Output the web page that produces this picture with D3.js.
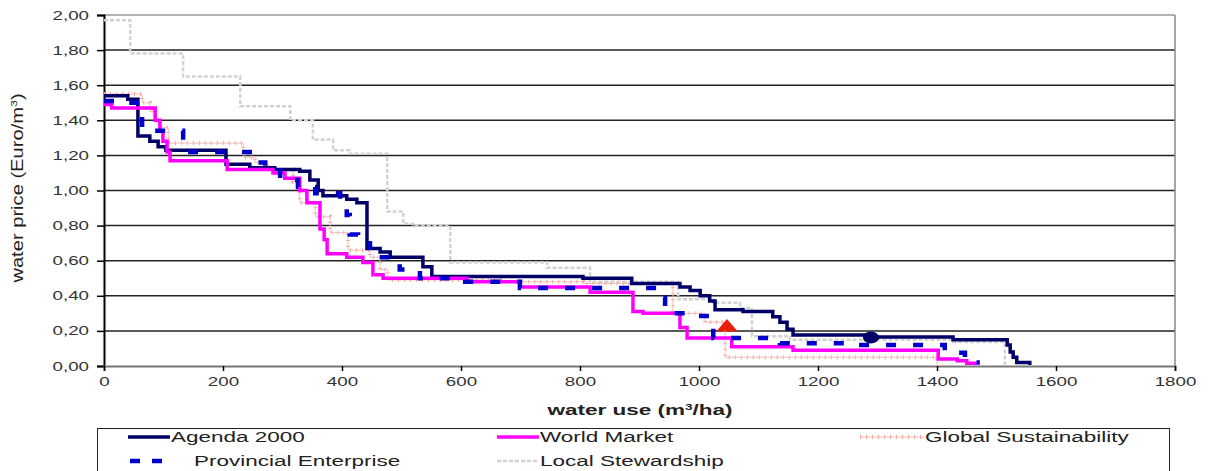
<!DOCTYPE html>
<html>
<head>
<meta charset="utf-8">
<script src="https://cdn.jsdelivr.net/npm/d3@7"></script>
<style>
  body { margin: 0; background: #fff; }
  text { font-family: "Liberation Sans", Arial, sans-serif; }
</style>
</head>
<body>
<div id="chart"></div>
<script>
// step curves: [water use, price] - price holds from this x until the next point
var agenda2000 = [[0,1.54],[40,1.52],[57,1.31],[77,1.28],[91,1.25],[104,1.23],[205,1.15],[245,1.13],[287,1.12],[329,1.11],[346,1.06],[360,1.00],[368,0.97],[408,0.95],[425,0.93],[442,0.67],[464,0.65],[481,0.62],[536,0.565],[551,0.51],[805,0.50],[887,0.47],[968,0.45],[985,0.43],[1002,0.40],[1018,0.37],[1027,0.32],[1074,0.31],[1124,0.28],[1136,0.25],[1148,0.21],[1158,0.177],[1287,0.165],[1427,0.15],[1518,0.12],[1523,0.08],[1528,0.05],[1534,0.02],[1556,0.005]];
var worldMarket = [[0,1.49],[13,1.47],[86,1.40],[94,1.34],[99,1.28],[106,1.22],[111,1.17],[207,1.12],[284,1.10],[304,1.07],[329,1.00],[341,0.93],[363,0.78],[370,0.72],[375,0.64],[408,0.62],[435,0.59],[452,0.52],[469,0.50],[610,0.48],[699,0.45],[817,0.42],[889,0.31],[906,0.30],[968,0.22],[980,0.16],[1055,0.11],[1158,0.09],[1402,0.04],[1434,0.03],[1450,0.015],[1467,0.015]];
var provincialEnterprise = [[0,1.51],[35,1.50],[64,1.34],[133,1.22],[245,1.16],[271,1.13],[296,1.06],[326,1.02],[355,0.985],[397,0.945],[408,0.86],[413,0.75],[427,0.70],[447,0.62],[497,0.55],[531,0.50],[607,0.48],[699,0.445],[934,0.39],[943,0.30],[976,0.285],[1018,0.27],[1024,0.16],[1136,0.13],[1254,0.12],[1413,0.075],[1447,0.02],[1472,0.02]];
var globalSustainability = [[0,1.55],[64,1.50],[77,1.45],[86,1.40],[94,1.36],[108,1.27],[234,1.19],[254,1.16],[274,1.12],[318,1.05],[329,0.93],[355,0.85],[380,0.76],[410,0.66],[447,0.62],[464,0.55],[477,0.49],[666,0.48],[805,0.47],[956,0.30],[1010,0.25],[1044,0.05],[1400,0.0]];
var localStewardship = [[0,1.97],[44,1.78],[133,1.65],[229,1.48],[313,1.40],[351,1.29],[385,1.23],[413,1.21],[476,0.88],[503,0.81],[519,0.80],[582,0.59],[745,0.56],[817,0.48],[965,0.38],[1024,0.36],[1069,0.33],[1089,0.17],[1153,0.15],[1427,0.137],[1514,0.0]];

var circleMarker = [1289, 0.163];
var triangleMarker = [1047, 0.22];

var xTicks = [0,200,400,600,800,1000,1200,1400,1600,1800];
var yTicks = [0,0.2,0.4,0.6,0.8,1.0,1.2,1.4,1.6,1.8,2.0];

var seriesNames = ["Agenda 2000","World Market","Global Sustainability","Provincial Enterprise","Local Stewardship"];

var W = 1209, H = 471;
var svg = d3.select("#chart").append("svg")
    .attr("width", W)
    .attr("height", H);

var x = d3.scaleLinear().domain([0,1800]).range([104,1175]);
var y = d3.scaleLinear().domain([0,2]).range([366,15]);

// the original picture is stretched sideways, so is the text
var stretch = "scale(1.5,1)";

// grid lines
svg.append("g").selectAll("line")
    .data(yTicks.filter(t => t > 0 && t < 2))
    .enter().append("line")
    .attr("x1", x(0)).attr("x2", x(1800))
    .attr("y1", d => y(d)).attr("y2", d => y(d))
    .attr("stroke", "#222")
    .attr("stroke-width", 1.5);

// top and right frame
svg.append("line").attr("x1", x(0)).attr("x2", x(1800)).attr("y1", y(2)).attr("y2", y(2))
    .attr("stroke", "#999").attr("stroke-width", 1.5);
svg.append("line").attr("x1", x(1800)).attr("x2", x(1800)).attr("y1", y(2)).attr("y2", y(0))
    .attr("stroke", "#888").attr("stroke-width", 1.5);

// axes
var yAxis = svg.append("g")
    .attr("transform", "translate(" + x(0) + ",0)")
    .call(d3.axisLeft(y).tickValues(yTicks).tickSize(7).tickPadding(3)
        .tickFormat(d => d.toFixed(2).replace(".", ",")));
var xAxis = svg.append("g")
    .attr("transform", "translate(0," + y(0) + ")")
    .call(d3.axisBottom(x).tickValues(xTicks).tickSize(5).tickPadding(6)
        .tickFormat(d3.format("d")));

[yAxis, xAxis].forEach(function(a){
    a.select(".domain").attr("stroke-width", 2);
    a.selectAll("text")
        .attr("font-family", "Liberation Sans, Arial, sans-serif")
        .attr("font-size", 12.5)
        .attr("fill", "#333")
        .attr("transform", stretch);
    a.selectAll(".tick line").attr("stroke-width", 1.5);
});
xAxis.select(".domain").attr("stroke", "#777");

// axis titles
svg.append("text")
    .attr("transform", "translate(640,415) " + stretch)
    .attr("text-anchor", "middle")
    .attr("font-size", 15)
    .attr("font-weight", "bold")
    .attr("fill", "#222")
    .html("water use (m<tspan dy='-5' font-size='9'>3</tspan><tspan dy='5'>/ha)</tspan>");

svg.append("text")
    .attr("transform", "translate(23,188) rotate(-90) scale(1.55,1.2)")
    .attr("text-anchor", "middle")
    .attr("font-size", 13)
    .attr("fill", "#222")
    .html("water price (Euro/m<tspan dy='-5' font-size='8'>3</tspan><tspan dy='5'>)</tspan>");

// series
var line = d3.line()
    .x(d => x(d[0]))
    .y(d => y(d[1]))
    .curve(d3.curveStepAfter);

function drawLocal(sel){
    return sel.attr("fill", "none").attr("stroke", "#d2d2d2").attr("stroke-width", 2.5)
        .attr("stroke-dasharray", "4,2");
}
function drawGlobalBase(sel){
    return sel.attr("fill", "none").attr("stroke", "#f6bdb8").attr("stroke-width", 1);
}
function drawGlobalTicks(sel){
    return sel.attr("fill", "none").attr("stroke", "#f4aaa3").attr("stroke-width", 4)
        .attr("stroke-dasharray", "1,5");
}
function drawAgenda(sel){
    return sel.attr("fill", "none").attr("stroke", "#000066").attr("stroke-width", 3.5);
}
function drawWorld(sel){
    return sel.attr("fill", "none").attr("stroke", "#ff00ff").attr("stroke-width", 3.5);
}
function drawProvincial(sel){
    return sel.attr("fill", "none").attr("stroke", "#0000cc").attr("stroke-width", 4.5)
        .attr("stroke-dasharray", "10,17");
}

drawLocal(svg.append("path").datum(localStewardship).attr("d", line));
drawGlobalBase(svg.append("path").datum(globalSustainability).attr("d", line));
drawGlobalTicks(svg.append("path").datum(globalSustainability).attr("d", line));
drawAgenda(svg.append("path").datum(agenda2000).attr("d", line));
drawWorld(svg.append("path").datum(worldMarket).attr("d", line));
drawProvincial(svg.append("path").datum(provincialEnterprise).attr("d", line));

// markers
svg.append("ellipse")
    .attr("cx", x(circleMarker[0])).attr("cy", y(circleMarker[1]))
    .attr("rx", 8).attr("ry", 6)
    .attr("fill", "#000066");
svg.append("path")
    .attr("transform", "translate(" + x(triangleMarker[0]) + "," + y(triangleMarker[1]) + ") scale(1.5,1)")
    .attr("d", d3.symbol().type(d3.symbolTriangle).size(90))
    .attr("fill", "#e8200a");

// legend
var legend = svg.append("g");
legend.append("rect")
    .attr("x", 97.5).attr("y", 428.5)
    .attr("width", 1072).attr("height", 60)
    .attr("fill", "#fff").attr("stroke", "#222").attr("stroke-width", 1);

var legendItems = [
    {name: seriesNames[0], lx: 128, ly: 437, style: drawAgenda},
    {name: seriesNames[1], lx: 497, ly: 437, style: drawWorld},
    {name: seriesNames[2], lx: 860, ly: 437, style: null},
    {name: seriesNames[3], lx: 128, ly: 461, style: drawProvincial},
    {name: seriesNames[4], lx: 497, ly: 461, style: drawLocal}
];
legendItems.forEach(function(it){
    var len = 42;
    if (it.style === null) {
        drawGlobalBase(legend.append("line").attr("x1", it.lx).attr("x2", it.lx + 64).attr("y1", it.ly).attr("y2", it.ly));
        drawGlobalTicks(legend.append("line").attr("x1", it.lx).attr("x2", it.lx + 64).attr("y1", it.ly).attr("y2", it.ly));
        len = 64;
    } else if (it.name === "Provincial Enterprise") {
        it.style(legend.append("line").attr("x1", it.lx + 2).attr("x2", it.lx + 35).attr("y1", it.ly).attr("y2", it.ly))
            .attr("stroke-dasharray", "10,12");
        len = 65;
    } else {
        it.style(legend.append("line").attr("x1", it.lx).attr("x2", it.lx + len).attr("y1", it.ly).attr("y2", it.ly));
    }
    legend.append("text")
        .attr("transform", "translate(" + (it.lx + len + 1) + "," + (it.ly + 5) + ") " + stretch)
        .attr("font-size", 15)
        .attr("fill", "#222")
        .text(it.name);
});
</script>
</body>
</html>
